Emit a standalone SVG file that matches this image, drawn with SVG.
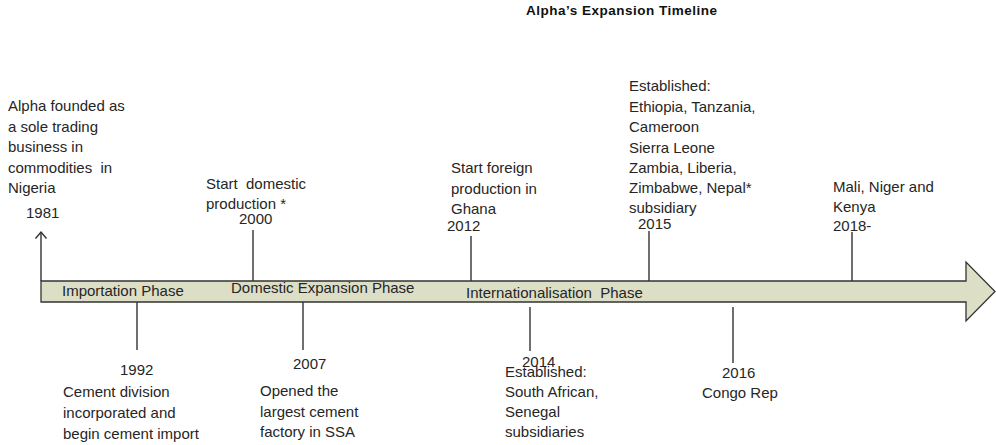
<svg xmlns="http://www.w3.org/2000/svg" width="996" height="445" viewBox="0 0 996 445">
<style>
text{font-family:"Liberation Sans",Arial,sans-serif;font-size:15px;fill:#262626}
.t{font-weight:bold;font-size:13.5px;fill:#111}
.ln{stroke:#333;stroke-width:1.4;fill:none}
</style>
<rect width="996" height="445" fill="#fff"/>
<text class="t" x="526" y="15" textLength="191">Alpha’s Expansion Timeline</text>
<g id="timeline-arrow">
<path d="M41,281 L966,281 L966,262 L995,291.5 L966,321 L966,302 L41,302 Z" fill="#dcdfc6" stroke="#333" stroke-width="1.3"/>
</g>
<g id="connectors">
<line class="ln" x1="41" y1="281" x2="41" y2="232"/>
<path class="ln" d="M35.5,238.5 L41,232 L46.5,238.5" stroke-width="1.2"/>
<line class="ln" x1="253" y1="281" x2="253" y2="230"/>
<line class="ln" x1="471" y1="281" x2="471" y2="236"/>
<line class="ln" x1="649" y1="281" x2="649" y2="231"/>
<line class="ln" x1="852" y1="281" x2="852" y2="232"/>
<line class="ln" x1="137" y1="302" x2="137" y2="350"/>
<line class="ln" x1="303" y1="302" x2="303" y2="350"/>
<line class="ln" x1="530" y1="307" x2="530" y2="351"/>
<line class="ln" x1="733" y1="307" x2="733" y2="363"/>
</g>
<g id="phases">
<text x="62" y="296">Importation Phase</text>
<text x="231" y="293">Domestic Expansion Phase</text>
<text x="466" y="298" xml:space="preserve">Internationalisation  Phase</text>
</g>
<g id="e1981">
<text x="8" y="111">Alpha founded as</text>
<text x="8" y="132">a sole trading</text>
<text x="8" y="152">business in</text>
<text x="8" y="173" xml:space="preserve">commodities  in</text>
<text x="8" y="193">Nigeria</text>
<text x="26" y="218">1981</text>
</g>
<g id="e1992">
<text x="120" y="375">1992</text>
<text x="63" y="397">Cement division</text>
<text x="63" y="418">incorporated and</text>
<text x="63" y="439">begin cement import</text>
</g>
<g id="e2000">
<text x="206" y="189" xml:space="preserve">Start  domestic</text>
<text x="206" y="209">production *</text>
<text x="239" y="224">2000</text>
</g>
<g id="e2007">
<text x="293" y="369">2007</text>
<text x="260" y="396">Opened the</text>
<text x="260" y="417">largest cement</text>
<text x="260" y="437">factory in SSA</text>
</g>
<g id="e2012">
<text x="451" y="173">Start foreign</text>
<text x="451" y="194">production in</text>
<text x="451" y="214">Ghana</text>
<text x="447" y="231">2012</text>
</g>
<g id="e2014">
<text x="522" y="367">2014</text>
<text x="505" y="377">Established:</text>
<text x="505" y="397">South African,</text>
<text x="505" y="417">Senegal</text>
<text x="505" y="437">subsidiaries</text>
</g>
<g id="e2015">
<text x="629" y="91">Established:</text>
<text x="629" y="112">Ethiopia, Tanzania,</text>
<text x="629" y="132">Cameroon</text>
<text x="629" y="153">Sierra Leone</text>
<text x="629" y="173">Zambia, Liberia,</text>
<text x="629" y="193">Zimbabwe, Nepal*</text>
<text x="629" y="213">subsidiary</text>
<text x="638" y="229">2015</text>
</g>
<g id="e2016">
<text x="722" y="378">2016</text>
<text x="702" y="398">Congo Rep</text>
</g>
<g id="e2018">
<text x="833" y="192">Mali, Niger and</text>
<text x="833" y="212">Kenya</text>
<text x="833" y="231">2018-</text>
</g>
</svg>
